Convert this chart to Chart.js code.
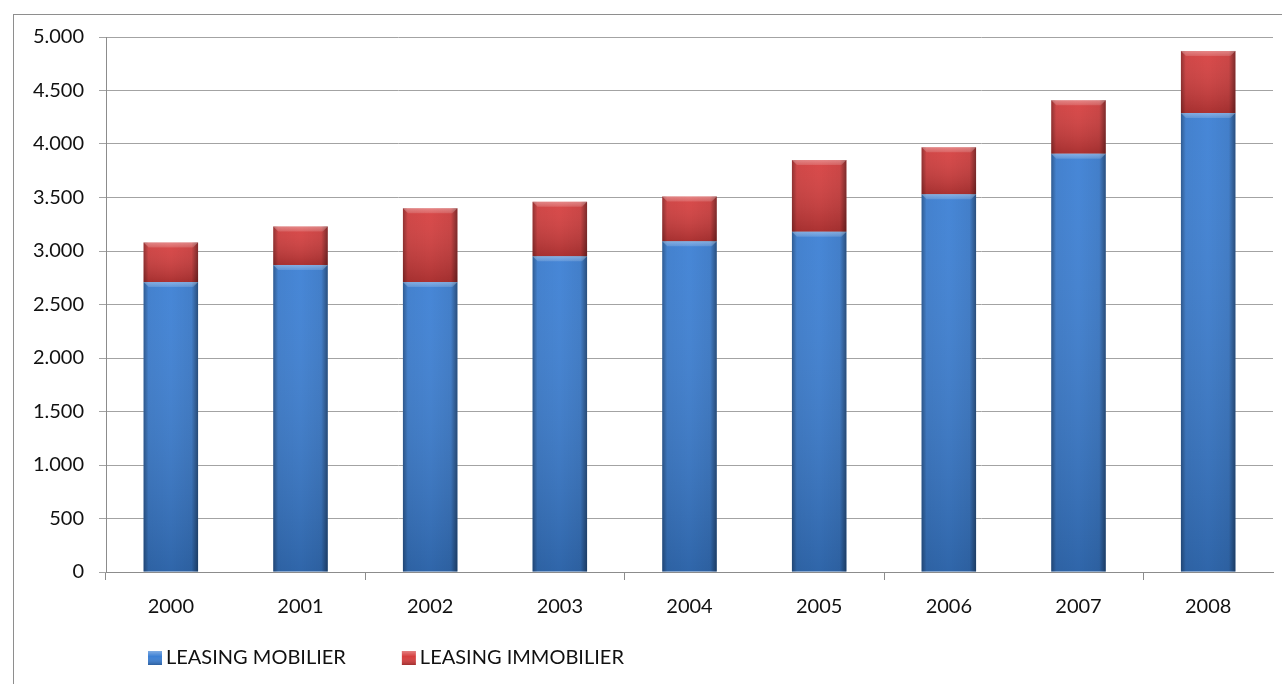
<!DOCTYPE html>
<html>
<head>
<meta charset="utf-8">
<title>Leasing mobilier / immobilier 2000-2008</title>
<script src="https://cdn.jsdelivr.net/npm/chart.js@4.4.0/dist/chart.umd.min.js"></script>
<style>
  html, body { margin: 0; padding: 0; background: #fff; }
  #chart { display: block; }
</style>
</head>
<body>
<canvas id="chart" width="1282" height="684"></canvas>
<script>
// Data
const years = ['2000', '2001', '2002', '2003', '2004', '2005', '2006', '2007', '2008'];
const mobilier = [2710, 2870, 2710, 2950, 3090, 3180, 3530, 3910, 4290];
const immobilier = [370, 360, 690, 510, 420, 670, 440, 500, 580];
const yTicks = [0, 500, 1000, 1500, 2000, 2500, 3000, 3500, 4000, 4500, 5000];

const FONT = 'Lato, "Open Sans", sans-serif';
Chart.defaults.font.family = FONT;
Chart.defaults.font.size = 20;
Chart.defaults.color = '#111';

// 5000 -> "5.000"
function fmtThousands(v) {
    return String(v).replace(/\B(?=(\d{3})+(?!\d))/g, '.');
}

// Thin grey frame around the whole chart
const framePlugin = {
    id: 'frame',
    beforeDraw(chart) {
        const ctx = chart.ctx;
        ctx.save();
        ctx.strokeStyle = '#8e8e8e';
        ctx.lineWidth = 1;
        ctx.strokeRect(13.5, 14.5, chart.width + 50, chart.height + 50);
        ctx.restore();
    }
};

// Bevel shading on top of each bar segment
const bevelPlugin = {
    id: 'bevel',
    afterDatasetsDraw(chart) {
        const ctx = chart.ctx;
        ctx.save();
        chart.data.datasets.forEach((ds, di) => {
            const meta = chart.getDatasetMeta(di);
            meta.data.forEach(bar => {
                const { x, y, base, width } = bar.getProps(['x', 'y', 'base', 'width'], true);
                const left = x - width / 2;
                const top = Math.min(y, base);
                const h = Math.abs(base - y);

                // light at the top, darker further down
                const vg = ctx.createLinearGradient(0, top, 0, top + h);
                vg.addColorStop(0, 'rgba(255,255,255,0.06)');
                vg.addColorStop(1, 'rgba(0,0,0,0.20)');
                ctx.fillStyle = vg;
                ctx.fillRect(left, top, width, h);

                // darker side edges
                const hg = ctx.createLinearGradient(left, 0, left + width, 0);
                hg.addColorStop(0, 'rgba(0,0,0,0.32)');
                hg.addColorStop(0.09, 'rgba(0,0,0,0.04)');
                hg.addColorStop(0.5, 'rgba(0,0,0,0)');
                hg.addColorStop(0.88, 'rgba(0,0,0,0.06)');
                hg.addColorStop(1, 'rgba(0,0,0,0.42)');
                ctx.fillStyle = hg;
                ctx.fillRect(left, top, width, h);

                // highlighted top rim
                const rim = 5;
                const rg = ctx.createLinearGradient(0, top, 0, top + rim);
                rg.addColorStop(0, 'rgba(255,255,255,0.34)');
                rg.addColorStop(1, 'rgba(255,255,255,0.14)');
                ctx.fillStyle = rg;
                ctx.beginPath();
                ctx.moveTo(left, top);
                ctx.lineTo(left + width, top);
                ctx.lineTo(left + width - rim, top + rim);
                ctx.lineTo(left + rim, top + rim);
                ctx.closePath();
                ctx.fill();
            });
        });
        ctx.restore();
    }
};

// Legend row under the x axis, left aligned
const legendPlugin = {
    id: 'bottomLegend',
    afterDraw(chart) {
        const ctx = chart.ctx;
        const area = chart.chartArea;
        const box = 14;
        let x = area.left + 42;
        const y = area.bottom + 86;
        ctx.save();
        ctx.font = '20px ' + FONT;
        ctx.textBaseline = 'middle';
        ctx.textAlign = 'left';
        chart.data.datasets.forEach(ds => {
            ctx.fillStyle = ds.backgroundColor;
            ctx.fillRect(x, y - box / 2, box, box);
            const g = ctx.createLinearGradient(0, y - box / 2, 0, y + box / 2);
            g.addColorStop(0, 'rgba(255,255,255,0.35)');
            g.addColorStop(0.4, 'rgba(255,255,255,0)');
            g.addColorStop(1, 'rgba(0,0,0,0.25)');
            ctx.fillStyle = g;
            ctx.fillRect(x, y - box / 2, box, box);
            ctx.fillStyle = '#111';
            ctx.fillText(ds.label, x + box + 4, y);
            x += box + 4 + ctx.measureText(ds.label).width + 56;
        });
        ctx.restore();
    }
};

const ctx = document.getElementById('chart').getContext('2d');
new Chart(ctx, {
    type: 'bar',
    data: {
        labels: years,
        datasets: [
            {
                label: 'LEASING MOBILIER',
                data: mobilier,
                backgroundColor: '#3b7fd4',
                borderWidth: 0
            },
            {
                label: 'LEASING IMMOBILIER',
                data: immobilier,
                backgroundColor: '#d63e3e',
                borderWidth: 0
            }
        ]
    },
    options: {
        responsive: false,
        animation: false,
        events: [],
        layout: {
            padding: { top: 37, right: 9, bottom: 65, left: 0 }
        },
        datasets: {
            bar: {
                categoryPercentage: 1,
                barPercentage: 0.42
            }
        },
        plugins: {
            tooltip: { enabled: false },
            legend: { display: false }
        },
        scales: {
            x: {
                stacked: true,
                afterFit(scale) { scale.height = 47; },
                grid: {
                    offset: true,
                    drawOnChartArea: false,
                    drawTicks: true,
                    tickLength: 8,
                    // a tick mark at every second category boundary
                    color: c => (c.index % 2 === 0 ? '#8c8c8c' : 'rgba(0,0,0,0)')
                },
                border: { display: true, color: '#8c8c8c', width: 1 },
                ticks: {
                    padding: 15,
                    autoSkip: false,
                    maxRotation: 0,
                    color: '#111'
                }
            },
            y: {
                stacked: true,
                min: 0,
                max: 5000,
                afterFit(scale) { scale.width = 106; },
                afterBuildTicks(scale) {
                    scale.ticks = yTicks.map(v => ({ value: v }));
                },
                grid: {
                    color: '#a3a3a3',
                    lineWidth: 1,
                    drawTicks: true,
                    tickLength: 7
                },
                border: { display: true, color: '#8c8c8c', width: 1 },
                ticks: {
                    padding: 15,
                    color: '#111',
                    callback: v => fmtThousands(v)
                }
            }
        }
    },
    plugins: [framePlugin, bevelPlugin, legendPlugin]
});
</script>
</body>
</html>
